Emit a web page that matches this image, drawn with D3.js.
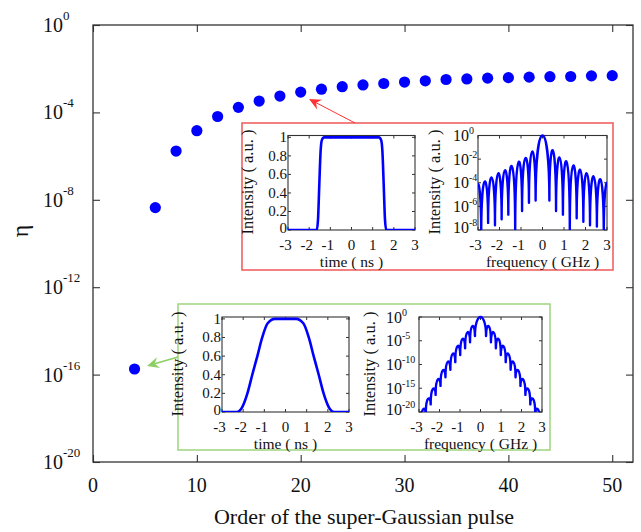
<!DOCTYPE html>
<html>
<head>
<meta charset="utf-8">
<script src="https://cdn.jsdelivr.net/npm/d3@7"></script>
<style>
  html, body { margin: 0; padding: 0; background: #fff; }
  svg text { font-family: "Liberation Serif", "Times New Roman", serif; fill: #111; }
</style>
</head>
<body>
<svg id="chart" width="641" height="532"></svg>
<script>
// ---- main series: leakage ratio eta versus super-Gaussian order ----
const pulseOrder = [4, 6, 8, 10, 12, 14, 16, 18, 20, 22, 24, 26, 28, 30, 32, 34, 36, 38, 40, 42, 44, 46, 48, 50];
const eta = [1.8e-16, 4.4e-9, 1.7e-6, 1.45e-5, 6.5e-5, 1.7e-4, 3.3e-4, 5.6e-4, 8.5e-4, 1.15e-3, 1.5e-3, 1.8e-3,
             2.1e-3, 2.45e-3, 2.8e-3, 3.2e-3, 3.4e-3, 3.7e-3, 3.9e-3, 4.1e-3, 4.3e-3, 4.4e-3, 4.7e-3, 4.8e-3];
const orderTicks = [0, 10, 20, 30, 40, 50];
const etaTickExp = [0, -4, -8, -12, -16, -20];

// ---- inset A: high-order pulse (flat top, steep edges) ----
const sharpTime      = [-3, -1.64, -1.58, -1.52, -1.46, -1.40, -1.30, 1.30, 1.40, 1.46, 1.52, 1.58, 1.64, 3];
const sharpIntensity = [0, 0, 0.12, 0.5, 0.85, 0.97, 1, 1, 0.97, 0.85, 0.5, 0.12, 0, 0];
// spectrum: null frequencies (GHz), log10 depth at each null, log10 height of each lobe between nulls
const sharpNullFreq = [-3.16, -2.85, -2.53, -2.21, -1.90, -1.59, -1.27, -0.95, -0.63, -0.32,
                        0.32, 0.63, 0.95, 1.27, 1.59, 1.90, 2.21, 2.53, 2.85, 3.16];
const sharpNullLog  = [-9, -8.5, -7.4, -7.6, -7.1, -6.7, -8.5, -6.4, -5.7, -5.5,
                       -5.5, -6.4, -6.7, -8.5, -7.0, -7.3, -7.6, -7.7, -8.5, -9];
const sharpLobeLog  = [-4.1, -3.9, -3.55, -3.2, -2.95, -2.6, -2.25, -1.9, -1.35,
                        0,
                       -1.25, -1.85, -2.2, -2.55, -2.9, -3.2, -3.45, -3.7, -4.0];
const sharpSpecTickExp = [0, -2, -4, -6, -8];

// ---- inset B: 4th-order pulse (smooth edges) ----
const smoothTime      = [-3, -2.3, -2.05, -1.8, -1.57, -1.33, -1.1, -0.85, -0.5, 0.5, 0.85, 1.1, 1.33, 1.57, 1.8, 2.05, 2.3, 3];
const smoothIntensity = [0, 0, 0.05, 0.2, 0.4, 0.6, 0.8, 0.95, 1, 1, 0.95, 0.8, 0.6, 0.4, 0.2, 0.05, 0, 0];
const smoothNullFreq = [-3.15, -2.91, -2.67, -2.43, -2.19, -1.95, -1.71, -1.47, -1.23, -0.99, -0.75, -0.51, -0.27,
                         0.27, 0.51, 0.75, 0.99, 1.23, 1.47, 1.71, 1.95, 2.19, 2.43, 2.67, 2.91, 3.15];
const smoothNullLog  = [-25, -22.5, -20.5, -18.4, -16.4, -14.5, -12.7, -11.1, -9.5, -8.0, -6.6, -5.3, -4.0,
                        -4.0, -5.3, -6.6, -8.0, -9.5, -11.1, -12.7, -14.5, -16.4, -18.4, -20.5, -22.5, -25];
const smoothLobeLog  = [-21.5, -19.4, -17.2, -15.1, -13.1, -11.2, -9.4, -7.7, -6.1, -4.6, -3.2, -1.9,
                         0,
                        -1.9, -3.2, -4.6, -6.1, -7.7, -9.4, -11.2, -13.1, -15.1, -17.2, -19.4, -21.5];
const smoothSpecTickExp = [0, -5, -10, -15, -20];

const timeTicks = [-3, -2, -1, 0, 1, 2, 3];
const freqTicks = [-3, -2, -1, 0, 1, 2, 3];
const intensityTicks = [0, 0.2, 0.4, 0.6, 0.8, 1];

const svg = d3.select("#chart");
const BLUE = "#0000ff";
const FRAME = "#333";
const TICK_FONT = 15;
const TITLE_FONT = 15.5;

// ================= main plot =================
const x = d3.scaleLinear().domain([0, 52]).range([93, 633]);
const y = d3.scaleLog().domain([1e-20, 1]).range([462, 25]);

const main = svg.append("g");
const inward = (g) => g.call(s => s.select(".domain").remove())
  .call(s => s.selectAll(".tick line").attr("stroke", FRAME).attr("stroke-width", 1.1))
  .call(s => s.selectAll(".tick text").remove());

main.append("g").attr("transform", `translate(0,${y.range()[0]})`)
  .call(d3.axisBottom(x).tickValues(orderTicks).tickSize(-7)).call(inward);
main.append("g").attr("transform", `translate(0,${y.range()[1]})`)
  .call(d3.axisTop(x).tickValues(orderTicks).tickSize(-7)).call(inward);
main.append("g").attr("transform", `translate(${x.range()[0]},0)`)
  .call(d3.axisLeft(y).tickValues(etaTickExp.map(e => Math.pow(10, e))).tickSize(-7)).call(inward);
main.append("g").attr("transform", `translate(${x.range()[1]},0)`)
  .call(d3.axisRight(y).tickValues(etaTickExp.map(e => Math.pow(10, e))).tickSize(-7)).call(inward);

main.append("rect")
  .attr("x", x.range()[0]).attr("y", y.range()[1])
  .attr("width", x.range()[1] - x.range()[0]).attr("height", y.range()[0] - y.range()[1])
  .attr("fill", "none").attr("stroke", FRAME).attr("stroke-width", 1.3);

// x tick labels
main.selectAll("text.xt").data(orderTicks).join("text")
  .attr("class", "xt")
  .attr("x", d => x(d)).attr("y", 492)
  .attr("text-anchor", "middle").attr("font-size", 20)
  .text(d => d);

// y tick labels: 10 with superscript exponent
const yl = main.selectAll("text.yt").data(etaTickExp).join("text")
  .attr("class", "yt")
  .attr("x", 43).attr("y", d => y(Math.pow(10, d)) + 7)
  .attr("font-size", 20);
yl.append("tspan").text("10");
yl.append("tspan").attr("font-size", 13).attr("dy", -12).text(d => d);

// axis titles
main.append("text")
  .attr("x", (x.range()[0] + x.range()[1]) / 2 + 1).attr("y", 524)
  .attr("text-anchor", "middle").attr("font-size", 22)
  .text("Order of the super-Gaussian pulse");
main.append("text")
  .attr("transform", "translate(28,231) rotate(-90)")
  .attr("text-anchor", "middle").attr("font-size", 24)
  .text("η");

// data markers
main.selectAll("circle.pt").data(pulseOrder).join("circle")
  .attr("class", "pt")
  .attr("cx", d => x(d)).attr("cy", (d, i) => y(eta[i]))
  .attr("r", 5.6).attr("fill", BLUE);

// ================= callout boxes and arrows =================
function arrow(g, x1, y1, x2, y2, color, width) {
  const ang = Math.atan2(y2 - y1, x2 - x1);
  const L = 12, W = 5.5, notch = 8;
  const ux = Math.cos(ang), uy = Math.sin(ang);
  const px = -uy, py = ux;
  const bx = x2 - ux * L, by = y2 - uy * L;
  const nx = x2 - ux * notch, ny = y2 - uy * notch;
  g.append("line").attr("x1", x1).attr("y1", y1).attr("x2", nx).attr("y2", ny)
    .attr("stroke", color).attr("stroke-width", width);
  g.append("path")
    .attr("d", `M${x2},${y2}L${bx + px * W},${by + py * W}L${nx},${ny}L${bx - px * W},${by - py * W}Z`)
    .attr("fill", color);
}

const callouts = svg.append("g");
callouts.append("rect").attr("x", 242).attr("y", 123).attr("width", 371).attr("height", 147)
  .attr("fill", "#fff").attr("stroke", "#f06262").attr("stroke-width", 1.6);
callouts.append("rect").attr("x", 178).attr("y", 304).attr("width", 372).attr("height", 146)
  .attr("fill", "#fff").attr("stroke", "#a4d886").attr("stroke-width", 1.6);
arrow(callouts, 355, 123, 309, 99, "#ff3333", 1);
arrow(callouts, 178, 357, 147, 366, "#8ccf64", 1.4);

// ================= inset panels =================
let clipId = 0;
function panelFrame(g, xs, ys) {
  const [x0, x1] = xs.range(), [y0, y1] = ys.range();
  g.append("rect").attr("x", x0).attr("y", y1).attr("width", x1 - x0).attr("height", y0 - y1)
    .attr("fill", "#fff").attr("stroke", FRAME).attr("stroke-width", 1.1);
}
function panelTicks(g, xs, ys, xt, yt) {
  const [x0, x1] = xs.range(), [y0, y1] = ys.range();
  const t = 3;
  xt.forEach(v => {
    g.append("line").attr("x1", xs(v)).attr("x2", xs(v)).attr("y1", y0).attr("y2", y0 - t).attr("stroke", FRAME);
    g.append("line").attr("x1", xs(v)).attr("x2", xs(v)).attr("y1", y1).attr("y2", y1 + t).attr("stroke", FRAME);
  });
  yt.forEach(v => {
    g.append("line").attr("x1", x0).attr("x2", x0 + t).attr("y1", ys(v)).attr("y2", ys(v)).attr("stroke", FRAME);
    g.append("line").attr("x1", x1).attr("x2", x1 - t).attr("y1", ys(v)).attr("y2", ys(v)).attr("stroke", FRAME);
  });
}
function xLabels(g, xs, ys, ticks, title) {
  const y0 = ys.range()[0];
  g.selectAll(null).data(ticks).join("text")
    .attr("x", d => xs(d) - (d < 0 ? 2.5 : 0)).attr("y", y0 + 19.7)
    .attr("text-anchor", "middle").attr("font-size", TICK_FONT)
    .text(d => d);
  g.append("text").attr("x", (xs.range()[0] + xs.range()[1]) / 2).attr("y", y0 + 37)
    .attr("text-anchor", "middle").attr("font-size", TITLE_FONT).text(title);
}
function yTitle(g, cx, cy) {
  g.append("text").attr("transform", `translate(${cx},${cy}) rotate(-90)`)
    .attr("text-anchor", "middle").attr("font-size", 16.5).text("Intensity ( a.u. )");
}
function clipFor(g, xs, ys) {
  const id = "clip" + (clipId++);
  const [x0, x1] = xs.range(), [y0, y1] = ys.range();
  g.append("clipPath").attr("id", id).append("rect")
    .attr("x", x0).attr("y", y1 - 2).attr("width", x1 - x0).attr("height", y0 - y1 + 2);
  return id;
}

function timePanel(g, box, tVals, iVals, titleCenter) {
  const xs = d3.scaleLinear().domain([-3, 3]).range([box.x0, box.x1]);
  const ys = d3.scaleLinear().domain([0, 1.02]).range([box.y1, box.y0]);
  panelFrame(g, xs, ys);
  panelTicks(g, xs, ys, timeTicks, intensityTicks);
  const id = clipFor(g, xs, ys);
  const line = d3.line().x(d => xs(d[0])).y(d => ys(d[1])).curve(d3.curveMonotoneX);
  g.append("path").attr("clip-path", `url(#${id})`)
    .attr("d", line(tVals.map((t, i) => [t, iVals[i]])))
    .attr("fill", "none").attr("stroke", BLUE).attr("stroke-width", 2.6);
  g.selectAll(null).data(intensityTicks).join("text")
    .attr("x", box.x0 - 1).attr("y", d => ys(d) + (d === 0 ? 3 : 4.8))
    .attr("text-anchor", "end").attr("font-size", TICK_FONT)
    .text(d => d);
  xLabels(g, xs, ys, timeTicks, "time ( ns )");
  yTitle(g, titleCenter[0], titleCenter[1]);
}

function specPanel(g, box, lo, tickExp, nulls, nullLog, lobeLog, labelX, titleCenter) {
  const xs = d3.scaleLinear().domain([-3, 3]).range([box.x0, box.x1]);
  const ys = d3.scaleLog().domain([Math.pow(10, lo), 1]).range([box.y1, box.y0]);
  panelFrame(g, xs, ys);
  panelTicks(g, xs, ys, freqTicks, tickExp.map(e => Math.pow(10, e)));
  const id = clipFor(g, xs, ys);
  // each lobe is an arch between two neighbouring nulls, peaking at its lobe height
  const p = d3.path();
  lobeLog.forEach((h, i) => {
    const xa = xs(nulls[i]), xb = xs(nulls[i + 1]);
    const ya = ys(Math.pow(10, nullLog[i])), yb = ys(Math.pow(10, nullLog[i + 1]));
    const yp = ys(Math.pow(10, h));
    const yc = (yp - (ya + yb) / 8) / 0.75;
    if (i === 0) p.moveTo(xa, ya);
    p.bezierCurveTo(xa, yc, xb, yc, xb, yb);
  });
  g.append("path").attr("clip-path", `url(#${id})`)
    .attr("d", p.toString())
    .attr("fill", "none").attr("stroke", BLUE).attr("stroke-width", 2.4).attr("stroke-linejoin", "round");
  const lab = g.selectAll(null).data(tickExp).join("text")
    .attr("x", labelX).attr("y", d => ys(Math.pow(10, d)) + (d === lo ? 3 : 5.5))
    .attr("font-size", 16);
  lab.append("tspan").text("10");
  lab.append("tspan").attr("font-size", 10).attr("dy", -7).text(d => d);
  xLabels(g, xs, ys, freqTicks, "frequency ( GHz )");
  yTitle(g, titleCenter[0], titleCenter[1]);
}

const insets = svg.append("g");
timePanel(insets.append("g"), { x0: 288, x1: 415, y0: 135.5, y1: 230 }, sharpTime, sharpIntensity, [253, 182]);
specPanel(insets.append("g"), { x0: 478, x1: 607, y0: 135.5, y1: 230 }, -8, sharpSpecTickExp,
          sharpNullFreq, sharpNullLog, sharpLobeLog, 453, [440, 182]);
timePanel(insets.append("g"), { x0: 222, x1: 349, y0: 317, y1: 412 }, smoothTime, smoothIntensity, [183, 364]);
specPanel(insets.append("g"), { x0: 419, x1: 542, y0: 317, y1: 412 }, -20, smoothSpecTickExp,
          smoothNullFreq, smoothNullLog, smoothLobeLog, 386, [375, 364]);
</script>
</body>
</html>
